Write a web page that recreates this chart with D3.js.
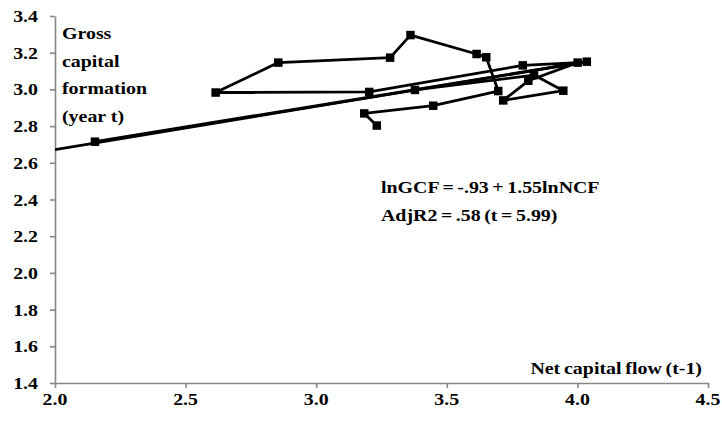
<!DOCTYPE html>
<html>
<head>
<meta charset="utf-8">
<script src="https://cdn.jsdelivr.net/npm/d3@7/dist/d3.min.js"></script>
<style>
  html, body { margin: 0; padding: 0; background: #fff; }
  svg { display: block; }
  text { font-family: "Liberation Serif", "Times New Roman", serif; font-weight: bold; fill: #000; }
</style>
</head>
<body>
<svg id="chart" width="722" height="427"></svg>
<script>
// ---- data ----
const xTickValues = [2.0, 2.5, 3.0, 3.5, 4.0, 4.5];
const yTickValues = [1.4, 1.6, 1.8, 2.0, 2.2, 2.4, 2.6, 2.8, 3.0, 3.2, 3.4];

// connected series: net capital flow (t-1) vs gross capital formation (t)
const ncf = [4.036, 2.153, 3.378, 3.834, 3.946, 3.716, 3.812, 4.001, 3.791, 3.203,
             2.615, 2.855, 3.283, 3.361, 3.614, 3.651, 3.697, 3.448, 3.184, 3.232];
const gcf = [3.151, 2.715, 2.997, 3.078, 2.993, 2.940, 3.047, 3.146, 3.131, 2.986,
             2.983, 3.146, 3.173, 3.296, 3.193, 3.175, 2.991, 2.911, 2.869, 2.803];

// fitted line end points
const fitX = [2.0, 4.036];
const fitY = [2.672, 3.151];

const yTitleLines = ["Gross", "capital", "formation", "(year t)"];
const xTitle = "Net capital flow (t-1)";
const eqLines = ["lnGCF = -.93 + 1.55lnNCF", "AdjR2 = .58 (t = 5.99)"];

// ---- layout ----
const svg = d3.select("#chart");
const pL = 55, pR = 708, pT = 16, pB = 383;
const SX = 1.17; // horizontal stretch of the text in the reference
const FS = 17;

const x = d3.scaleLinear().domain([2.0, 4.5]).range([pL, pR]);
const y = d3.scaleLinear().domain([1.4, 3.4]).range([pB, pT]);

function label(g, tx, ty, str, anchor, ws) {
  g.append("text")
    .attr("transform", `translate(${tx},${ty}) scale(${SX},1)`)
    .attr("text-anchor", anchor || "start")
    .attr("font-size", FS)
    .attr("word-spacing", ws || 0)
    .text(str);
}

// axes
const axisColor = "#868686";
const yAxis = svg.append("g").attr("transform", `translate(${pL},0)`)
  .call(d3.axisLeft(y).tickValues(yTickValues).tickSize(5).tickSizeOuter(0).tickFormat(""));
const xAxis = svg.append("g").attr("transform", `translate(0,${pB})`)
  .call(d3.axisBottom(x).tickValues(xTickValues).tickSize(5).tickSizeOuter(0).tickFormat(""));
[yAxis, xAxis].forEach(a => {
  a.select(".domain").attr("stroke", axisColor).attr("stroke-width", 1.6);
  a.selectAll(".tick line").attr("stroke", axisColor).attr("stroke-width", 1.6);
});

const labels = svg.append("g");
yTickValues.forEach(v => label(labels, 38, y(v) + 6, d3.format(".1f")(v), "end"));
xTickValues.forEach(v => label(labels, x(v), 405, d3.format(".1f")(v), "middle"));

// axis titles
yTitleLines.forEach((s, i) => label(labels, 62, 39 + i * 27.5, s, "start"));
label(labels, 702, 374, xTitle, "end", -1);

// equation
eqLines.forEach((s, i) => label(labels, 381, 193 + i * 28, s, "start", -1.2));

// clip
svg.append("clipPath").attr("id", "plotclip")
  .append("rect").attr("x", pL).attr("y", pT - 10).attr("width", pR - pL + 10).attr("height", pB - pT + 10);

const plot = svg.append("g").attr("clip-path", "url(#plotclip)");

// fitted line
const fitData = fitX.map((v, i) => [v, fitY[i]]);
plot.append("path")
  .datum(fitData)
  .attr("fill", "none").attr("stroke", "#000").attr("stroke-width", 2.8)
  .attr("d", d3.line().x(d => x(d[0])).y(d => y(d[1])));

// series
const pts = ncf.map((v, i) => [v, gcf[i]]);
plot.append("path")
  .datum(pts)
  .attr("fill", "none").attr("stroke", "#000").attr("stroke-width", 2.8)
  .attr("stroke-linejoin", "round")
  .attr("d", d3.line().x(d => x(d[0])).y(d => y(d[1])));

const ms = 8.5;
plot.selectAll("rect.m").data(pts).enter().append("rect")
  .attr("class", "m")
  .attr("x", d => x(d[0]) - ms / 2).attr("y", d => y(d[1]) - ms / 2)
  .attr("width", ms).attr("height", ms).attr("fill", "#000");
</script>
</body>
</html>
